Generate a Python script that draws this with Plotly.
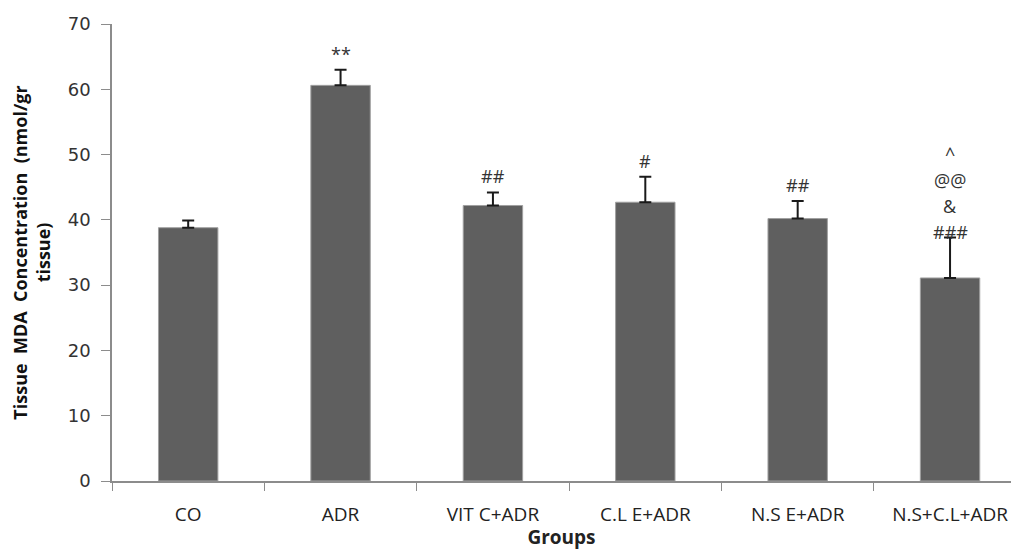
import plotly.graph_objects as go

groups = ["CO", "ADR", "VIT C+ADR", "C.L E+ADR", "N.S E+ADR", "N.S+C.L+ADR"]
mda = [38.8, 60.6, 42.2, 42.7, 40.2, 31.1]
sem = [1.1, 2.4, 2.0, 3.9, 2.7, 6.2]
marks = [[], ["**"], ["##"], ["#"], ["##"], ["###", "&", "@@", "^"]]

fig = go.Figure()
fig.add_trace(go.Bar(
    x=groups, y=mda,
    marker=dict(color="#5f5f5f", line=dict(color="#a0a0a0", width=1)),
    error_y=dict(type="data", array=sem, arrayminus=[0]*len(sem), symmetric=False,
                 color="#1a1a1a", thickness=2, width=6),
    width=0.39,
))

ann_font = dict(family="Open Sans, Liberation Sans", size=18, color="#333333")
for g, v, e, ms in zip(groups, mda, sem, marks):
    base_shift = -9 if len(ms) > 1 else 2
    for j, m in enumerate(ms):
        fig.add_annotation(
            x=g, y=v + e, text=m, showarrow=False,
            xanchor="center", yanchor="bottom",
            yshift=base_shift + 26 * j,
            font=ann_font,
        )

axis_color = "#8c8c8c"
fig.update_layout(
    width=1011, height=550,
    margin=dict(l=112, r=0, t=24, b=69),
    paper_bgcolor="white", plot_bgcolor="white",
    showlegend=False,
    xaxis=dict(
        type="category",
        range=[-0.5, 5.4],
        tickson="boundaries",
        ticks="outside", ticklen=8, tickcolor=axis_color, tickwidth=1,
        showline=True, linecolor=axis_color, linewidth=1.5,
        showgrid=False, zeroline=False,
        tickfont=dict(family="Open Sans, Liberation Sans", size=19, color="#222222"),
        ticklabelstandoff=15,
        title=dict(text="<b>Groups</b>", standoff=8,
                   font=dict(family="Open Sans, Liberation Sans", size=19, color="#222222")),
    ),
    yaxis=dict(
        range=[0, 70], tickvals=[0, 10, 20, 30, 40, 50, 60, 70],
        ticks="outside", ticklen=9, tickcolor=axis_color, tickwidth=1,
        showline=True, linecolor=axis_color, linewidth=1.5,
        showgrid=False, zeroline=False,
        tickfont=dict(family="DejaVu Sans", size=18, color="#333333"),
        ticklabelstandoff=7,
        title=dict(text="<b>Tissue&nbsp; MDA&nbsp; Concentration&nbsp; (nmol/gr<br>tissue)</b>",
                   standoff=12,
                   font=dict(family="Open Sans, Liberation Sans", size=18, color="#111111")),
    ),
)

fig.write_html("out.html", config={"displayModeBar": False},
               post_script="document.body.style.margin='0px';")
